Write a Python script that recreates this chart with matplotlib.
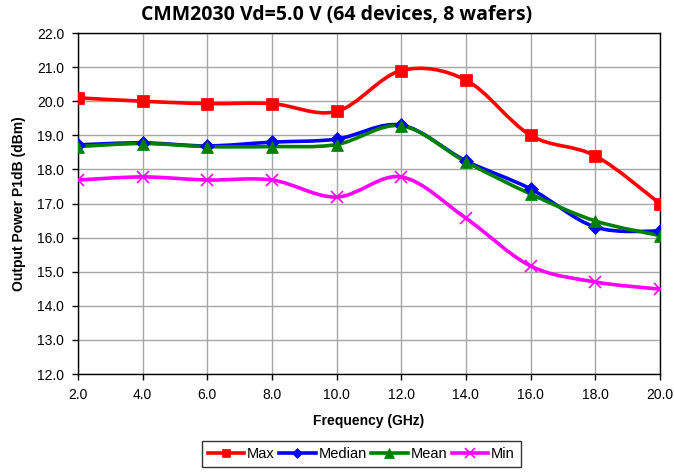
import numpy as np
import matplotlib.pyplot as plt
from matplotlib.path import Path
from matplotlib.patches import PathPatch
from matplotlib.lines import Line2D

freq = [2, 4, 6, 8, 10, 12, 14, 16, 18, 20]
p_max = [20.1, 20.0, 19.93, 19.93, 19.7, 20.9, 20.62, 19.0, 18.4, 17.0]
p_median = [18.72, 18.78, 18.69, 18.8, 18.89, 19.3, 18.25, 17.43, 16.31, 16.19]
p_mean = [18.67, 18.76, 18.67, 18.67, 18.73, 19.28, 18.22, 17.28, 16.49, 16.06]
p_min = [17.69, 17.78, 17.69, 17.69, 17.19, 17.78, 16.57, 15.17, 14.7, 14.49]

series = [
    ("Max", p_max, "#ff0000", "s", 8),
    ("Median", p_median, "#0000ff", "D", 7),
    ("Mean", p_mean, "#008000", "^", 9),
    ("Min", p_min, "#ff00ff", "x", 9),
]

plt.rcParams['font.family'] = ['Liberation Sans', 'DejaVu Sans']


def smooth_path(x, y):
    # excel-like smoothed line: bezier segments through every point
    pts = np.column_stack([x, y]).astype(float)
    n = len(pts)
    verts = [pts[0]]
    codes = [Path.MOVETO]
    for i in range(n - 1):
        p0 = pts[i - 1] if i > 0 else pts[i]
        p1 = pts[i]
        p2 = pts[i + 1]
        p3 = pts[i + 2] if i + 2 < n else pts[i + 1]
        c1 = p1 + (p2 - p0) / 6.0
        c2 = p2 - (p3 - p1) / 6.0
        verts += [c1, c2, p2]
        codes += [Path.CURVE4] * 3
    return Path(verts, codes)


fig = plt.figure(figsize=(6.74, 4.72), dpi=100)
ax = fig.add_axes([0.1157, 0.2076, 0.8633, 0.7224])

handles = []
for name, vals, col, mk, ms in series:
    patch = PathPatch(smooth_path(freq, vals), facecolor="none", edgecolor=col,
                      lw=2.6, zorder=3, capstyle="round", joinstyle="round")
    ax.add_patch(patch)
    mew = 1.2 if mk == "x" else 0.5
    ax.plot(freq, vals, linestyle="none", marker=mk, color=col, markersize=ms,
            markeredgewidth=mew, zorder=4)
    handles.append(Line2D([], [], color=col, lw=2.6, marker=mk, markersize=ms * 0.8,
                          markeredgewidth=mew, label=name))

ax.set_xlim(2, 20)
ax.set_ylim(12, 22)
ax.set_xticks(np.arange(2, 21, 2))
ax.set_yticks(np.arange(12, 22.1, 1))
ax.xaxis.set_major_formatter(plt.FormatStrFormatter("%.1f"))
ax.yaxis.set_major_formatter(plt.FormatStrFormatter("%.1f"))
ax.tick_params(labelsize=10, length=4, width=1, direction="out", pad=6)
ax.grid(True, color="#a6a6a6", lw=1)
ax.set_axisbelow(True)
for s in ax.spines.values():
    s.set_color("black")
    s.set_linewidth(1)

fig.text(0.5, 0.968, "CMM2030 Vd=5.0 V (64 devices, 8 wafers)", fontsize=14,
         fontweight="bold", family=["Open Sans", "DejaVu Sans"],
         ha="center", va="center")
ax.set_xlabel("Frequency (GHz)", fontsize=10, fontweight="bold", labelpad=9)
ax.set_ylabel("Output Power P1dB (dBm)", fontsize=10, fontweight="bold", labelpad=8)

leg = fig.legend(handles=handles, loc="lower center", bbox_to_anchor=(0.536, -0.004),
                 ncol=4, fontsize=10.5, frameon=True, fancybox=False,
                 handlelength=2.5, handletextpad=0.2, columnspacing=0.3,
                 borderpad=0.4)
leg.get_frame().set_edgecolor("black")
leg.get_frame().set_linewidth(1)

fig.savefig("out.png", dpi=100)
